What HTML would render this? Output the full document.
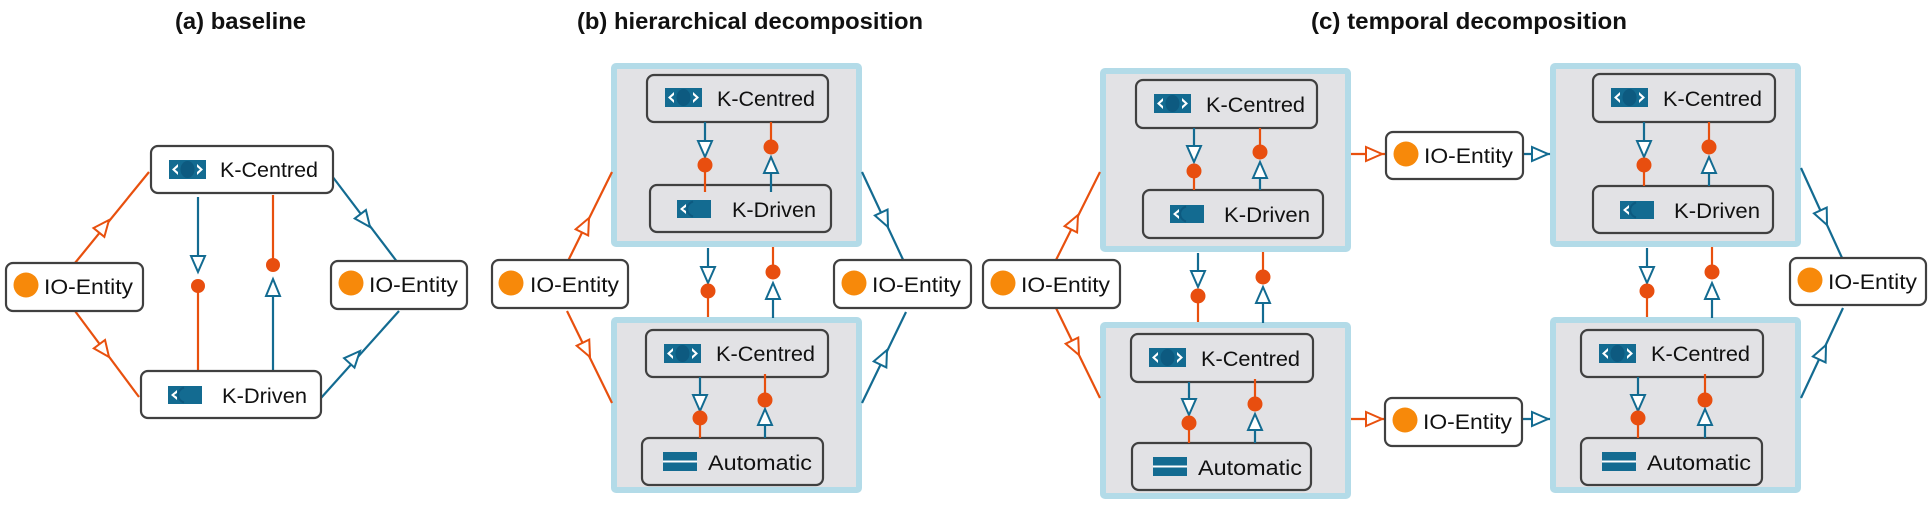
<!DOCTYPE html>
<html><head><meta charset="utf-8"><style>
html,body{margin:0;padding:0;background:#fff;}
svg{display:block}
text{font-family:"Liberation Sans",sans-serif;}
.t{font-weight:bold;font-size:23px;fill:#111}
.l{font-size:21px;fill:#111}
.n{stroke:#404040;stroke-width:2.2}
.c{fill:#e2e2e5;stroke:#b3dbe8;stroke-width:6}
.o{stroke:#e8500e;stroke-width:2.2;fill:none}
.b{stroke:#136b91;stroke-width:2.2;fill:none}
.ot{stroke:#e8500e;stroke-width:2;fill:#fff}
.bt{stroke:#136b91;stroke-width:2;fill:#fff}
.d{fill:#e84e0f}
.oc{fill:#f7890a}
</style></head><body>
<svg width="1928" height="505" viewBox="0 0 1928 505" xmlns="http://www.w3.org/2000/svg">
<defs>
<g id="ikc"><rect width="37" height="19" fill="#136b91"/><ellipse cx="18.5" cy="9.5" rx="7" ry="8.5" fill="#0d5a80"/><polygon points="9,4 3,9.5 9,15 9,12 6,9.5 9,7" fill="#fff"/><polygon points="28,4 34,9.5 28,15 28,12 31,9.5 28,7" fill="#fff"/></g>
<g id="ikd"><rect width="34" height="18" fill="#136b91"/><path d="M16,1.5 A9,8 0 0 0 16,16.5" fill="none" stroke="#0d5a80" stroke-width="2"/><polygon points="9,4 3,9 9,14 9,11 6,9 9,7" fill="#fff"/></g>
<g id="iau"><rect width="34" height="19" fill="#136b91"/><rect y="8.5" width="34" height="2" fill="#fff"/></g>
<polygon id="arr" points="0,0 -16,-7 -16,7"/>
</defs>

<!-- titles -->
<text class="t" x="175" y="29" textLength="131" lengthAdjust="spacingAndGlyphs">(a) baseline</text>
<text class="t" x="577" y="29" textLength="346" lengthAdjust="spacingAndGlyphs">(b) hierarchical decomposition</text>
<text class="t" x="1311" y="29" textLength="316" lengthAdjust="spacingAndGlyphs">(c) temporal decomposition</text>

<!-- ===== (a) ===== -->
<line class="o" x1="75" y1="263" x2="149" y2="172"/>
<line class="o" x1="75" y1="311" x2="139" y2="397"/>
<line class="b" x1="329" y1="172" x2="398" y2="263"/>
<line class="b" x1="321" y1="398" x2="399" y2="311"/>
<use href="#arr" class="ot" transform="translate(109,220) rotate(-50.9)"/>
<use href="#arr" class="ot" transform="translate(109,357) rotate(53.3)"/>
<use href="#arr" class="bt" transform="translate(370,227) rotate(52.8)"/>
<use href="#arr" class="bt" transform="translate(360,351) rotate(-48)"/>

<line class="b" x1="198" y1="197" x2="198" y2="256"/>
<polygon class="bt" points="191,256 205,256 198,272"/>
<line class="o" x1="198" y1="286" x2="198" y2="372"/>
<circle class="d" cx="198" cy="286" r="7"/>
<line class="o" x1="273" y1="195" x2="273" y2="265"/>
<circle class="d" cx="273" cy="265" r="7"/>
<line class="b" x1="273" y1="296" x2="273" y2="375"/>
<polygon class="bt" points="266,296 280,296 273,279"/>

<rect class="n" x="151" y="146" width="182" height="47" rx="7" fill="#fff"/>
<use href="#ikc" x="169" y="160"/>
<text class="l" x="220" y="177" textLength="98" lengthAdjust="spacingAndGlyphs">K-Centred</text>
<rect class="n" x="141" y="371" width="180" height="47" rx="7" fill="#fff"/>
<use href="#ikd" x="168" y="386"/>
<text class="l" x="222" y="403" textLength="85" lengthAdjust="spacingAndGlyphs">K-Driven</text>
<rect class="n" x="6" y="263" width="137" height="48" rx="7" fill="#fff"/>
<circle class="oc" cx="26" cy="285" r="12.5"/>
<text class="l" x="44" y="294" textLength="89" lengthAdjust="spacingAndGlyphs">IO-Entity</text>
<rect class="n" x="331" y="261" width="136" height="48" rx="7" fill="#fff"/>
<circle class="oc" cx="351" cy="283" r="12.5"/>
<text class="l" x="369" y="292" textLength="89" lengthAdjust="spacingAndGlyphs">IO-Entity</text>

<!-- ===== (b) ===== -->
<rect class="c" x="614" y="66" width="245" height="178" rx="2"/>
<rect class="c" x="614" y="320" width="245" height="170" rx="2"/>

<line class="o" x1="567" y1="263" x2="612" y2="172"/>
<line class="o" x1="567" y1="311" x2="612" y2="403"/>
<line class="b" x1="862" y1="172" x2="906" y2="266"/>
<line class="b" x1="862" y1="403" x2="906" y2="312"/>
<use href="#arr" class="ot" transform="translate(589,218) rotate(-63.7)"/>
<use href="#arr" class="ot" transform="translate(590,357) rotate(63.9)"/>
<use href="#arr" class="bt" transform="translate(888,227) rotate(64.9)"/>
<use href="#arr" class="bt" transform="translate(887,350) rotate(-64.2)"/>

<rect class="n" x="647" y="75" width="181" height="47" rx="7" fill="#e2e2e5"/>
<use href="#ikc" x="665" y="88"/>
<text class="l" x="717" y="106" textLength="98" lengthAdjust="spacingAndGlyphs">K-Centred</text>
<rect class="n" x="650" y="185" width="181" height="47" rx="7" fill="#e2e2e5"/>
<use href="#ikd" x="677" y="200"/>
<text class="l" x="732" y="217" textLength="84" lengthAdjust="spacingAndGlyphs">K-Driven</text>
<rect class="n" x="646" y="330" width="182" height="47" rx="7" fill="#e2e2e5"/>
<use href="#ikc" x="664" y="344"/>
<text class="l" x="716" y="361" textLength="99" lengthAdjust="spacingAndGlyphs">K-Centred</text>
<rect class="n" x="642" y="438" width="181" height="47" rx="7" fill="#e2e2e5"/>
<use href="#iau" x="663" y="452"/>
<text class="l" x="708" y="470" textLength="104" lengthAdjust="spacingAndGlyphs">Automatic</text>

<!-- b connectors -->
<g>
<line class="b" x1="705" y1="122" x2="705" y2="141"/><line class="o" x1="705" y1="165" x2="705" y2="192"/>
<polygon class="bt" points="698,141 712,141 705,157"/><circle class="d" cx="705" cy="165" r="7.5"/>
<line class="o" x1="771" y1="122" x2="771" y2="147"/><line class="b" x1="771" y1="173" x2="771" y2="192"/>
<circle class="d" cx="771" cy="147" r="7.5"/><polygon class="bt" points="764,173 778,173 771,157"/>

<line class="b" x1="708" y1="248" x2="708" y2="267"/><line class="o" x1="708" y1="291" x2="708" y2="317"/>
<polygon class="bt" points="701,267 715,267 708,283"/><circle class="d" cx="708" cy="291" r="7.5"/>
<line class="o" x1="773" y1="247" x2="773" y2="272"/><line class="b" x1="773" y1="299" x2="773" y2="318"/>
<circle class="d" cx="773" cy="272" r="7.5"/><polygon class="bt" points="766,299 780,299 773,283"/>

<line class="b" x1="700" y1="377" x2="700" y2="395"/><line class="o" x1="700" y1="418" x2="700" y2="438"/>
<polygon class="bt" points="693,395 707,395 700,411"/><circle class="d" cx="700" cy="418" r="7.5"/>
<line class="o" x1="765" y1="374" x2="765" y2="400"/><line class="b" x1="765" y1="425" x2="765" y2="438"/>
<circle class="d" cx="765" cy="400" r="7.5"/><polygon class="bt" points="758,425 772,425 765,409"/>
</g>

<rect class="n" x="492" y="260" width="136" height="48" rx="7" fill="#fff"/>
<circle class="oc" cx="511" cy="283" r="12.5"/>
<text class="l" x="530" y="292" textLength="89" lengthAdjust="spacingAndGlyphs">IO-Entity</text>
<rect class="n" x="834" y="260" width="137" height="48" rx="7" fill="#fff"/>
<circle class="oc" cx="854" cy="283" r="12.5"/>
<text class="l" x="872" y="292" textLength="89" lengthAdjust="spacingAndGlyphs">IO-Entity</text>

<!-- ===== (c) ===== -->
<rect class="c" x="1103" y="71" width="245" height="178" rx="2"/>
<rect class="c" x="1103" y="325" width="245" height="171" rx="2"/>
<rect class="c" x="1553" y="66" width="245" height="178" rx="2"/>
<rect class="c" x="1553" y="320" width="245" height="170" rx="2"/>

<line class="o" x1="1056" y1="260" x2="1100" y2="172"/>
<line class="o" x1="1056" y1="308" x2="1100" y2="398"/>
<line class="b" x1="1801" y1="168" x2="1843" y2="260"/>
<line class="b" x1="1801" y1="398" x2="1843" y2="308"/>
<use href="#arr" class="ot" transform="translate(1078,215) rotate(-63.4)"/>
<use href="#arr" class="ot" transform="translate(1079,355) rotate(63.9)"/>
<use href="#arr" class="bt" transform="translate(1827,225) rotate(65.5)"/>
<use href="#arr" class="bt" transform="translate(1826,345) rotate(-65)"/>

<!-- horizontal -->
<line class="o" x1="1351" y1="154" x2="1386" y2="154"/>
<polygon class="ot" points="1366,147 1366,161 1382,154"/>
<line class="b" x1="1523" y1="154" x2="1550" y2="154"/>
<polygon class="bt" points="1532,147 1532,161 1548,154"/>
<line class="o" x1="1351" y1="419" x2="1386" y2="419"/>
<polygon class="ot" points="1366,412 1366,426 1382,419"/>
<line class="b" x1="1522" y1="419" x2="1550" y2="419"/>
<polygon class="bt" points="1532,412 1532,426 1548,419"/>

<!-- TL nodes -->
<rect class="n" x="1136" y="80" width="181" height="48" rx="7" fill="#e2e2e5"/>
<use href="#ikc" x="1154" y="94"/>
<text class="l" x="1206" y="112" textLength="99" lengthAdjust="spacingAndGlyphs">K-Centred</text>
<rect class="n" x="1143" y="190" width="180" height="48" rx="7" fill="#e2e2e5"/>
<use href="#ikd" x="1170" y="205"/>
<text class="l" x="1224" y="222" textLength="86" lengthAdjust="spacingAndGlyphs">K-Driven</text>
<!-- BL nodes -->
<rect class="n" x="1131" y="334" width="182" height="48" rx="7" fill="#e2e2e5"/>
<use href="#ikc" x="1149" y="348"/>
<text class="l" x="1201" y="366" textLength="99" lengthAdjust="spacingAndGlyphs">K-Centred</text>
<rect class="n" x="1132" y="443" width="179" height="47" rx="7" fill="#e2e2e5"/>
<use href="#iau" x="1153" y="457"/>
<text class="l" x="1198" y="475" textLength="104" lengthAdjust="spacingAndGlyphs">Automatic</text>
<!-- TR nodes -->
<rect class="n" x="1593" y="74" width="182" height="48" rx="7" fill="#e2e2e5"/>
<use href="#ikc" x="1611" y="88"/>
<text class="l" x="1663" y="106" textLength="99" lengthAdjust="spacingAndGlyphs">K-Centred</text>
<rect class="n" x="1593" y="186" width="180" height="47" rx="7" fill="#e2e2e5"/>
<use href="#ikd" x="1620" y="201"/>
<text class="l" x="1674" y="218" textLength="86" lengthAdjust="spacingAndGlyphs">K-Driven</text>
<!-- BR nodes -->
<rect class="n" x="1581" y="330" width="182" height="47" rx="7" fill="#e2e2e5"/>
<use href="#ikc" x="1599" y="344"/>
<text class="l" x="1651" y="361" textLength="99" lengthAdjust="spacingAndGlyphs">K-Centred</text>
<rect class="n" x="1581" y="438" width="181" height="47" rx="7" fill="#e2e2e5"/>
<use href="#iau" x="1602" y="452"/>
<text class="l" x="1647" y="470" textLength="104" lengthAdjust="spacingAndGlyphs">Automatic</text>

<!-- c connectors -->
<g>
<line class="b" x1="1194" y1="128" x2="1194" y2="146"/><line class="o" x1="1194" y1="171" x2="1194" y2="190"/>
<polygon class="bt" points="1187,146 1201,146 1194,162"/><circle class="d" cx="1194" cy="171" r="7.5"/>
<line class="o" x1="1260" y1="128" x2="1260" y2="152"/><line class="b" x1="1260" y1="178" x2="1260" y2="190"/>
<circle class="d" cx="1260" cy="152" r="7.5"/><polygon class="bt" points="1253,178 1267,178 1260,162"/>

<line class="b" x1="1198" y1="253" x2="1198" y2="271"/><line class="o" x1="1198" y1="296" x2="1198" y2="322"/>
<polygon class="bt" points="1191,271 1205,271 1198,287"/><circle class="d" cx="1198" cy="296" r="7.5"/>
<line class="o" x1="1263" y1="252" x2="1263" y2="277"/><line class="b" x1="1263" y1="303" x2="1263" y2="323"/>
<circle class="d" cx="1263" cy="277" r="7.5"/><polygon class="bt" points="1256,303 1270,303 1263,287"/>

<line class="b" x1="1189" y1="382" x2="1189" y2="399"/><line class="o" x1="1189" y1="423" x2="1189" y2="443"/>
<polygon class="bt" points="1182,399 1196,399 1189,415"/><circle class="d" cx="1189" cy="423" r="7.5"/>
<line class="o" x1="1255" y1="379" x2="1255" y2="404"/><line class="b" x1="1255" y1="430" x2="1255" y2="443"/>
<circle class="d" cx="1255" cy="404" r="7.5"/><polygon class="bt" points="1248,430 1262,430 1255,414"/>

<line class="b" x1="1644" y1="122" x2="1644" y2="141"/><line class="o" x1="1644" y1="165" x2="1644" y2="186"/>
<polygon class="bt" points="1637,141 1651,141 1644,157"/><circle class="d" cx="1644" cy="165" r="7.5"/>
<line class="o" x1="1709" y1="122" x2="1709" y2="147"/><line class="b" x1="1709" y1="173" x2="1709" y2="186"/>
<circle class="d" cx="1709" cy="147" r="7.5"/><polygon class="bt" points="1702,173 1716,173 1709,157"/>

<line class="b" x1="1647" y1="248" x2="1647" y2="267"/><line class="o" x1="1647" y1="291" x2="1647" y2="317"/>
<polygon class="bt" points="1640,267 1654,267 1647,283"/><circle class="d" cx="1647" cy="291" r="7.5"/>
<line class="o" x1="1712" y1="247" x2="1712" y2="272"/><line class="b" x1="1712" y1="299" x2="1712" y2="318"/>
<circle class="d" cx="1712" cy="272" r="7.5"/><polygon class="bt" points="1705,299 1719,299 1712,283"/>

<line class="b" x1="1638" y1="377" x2="1638" y2="395"/><line class="o" x1="1638" y1="418" x2="1638" y2="438"/>
<polygon class="bt" points="1631,395 1645,395 1638,411"/><circle class="d" cx="1638" cy="418" r="7.5"/>
<line class="o" x1="1705" y1="374" x2="1705" y2="400"/><line class="b" x1="1705" y1="425" x2="1705" y2="438"/>
<circle class="d" cx="1705" cy="400" r="7.5"/><polygon class="bt" points="1698,425 1712,425 1705,409"/>
</g>

<!-- c IO entities -->
<rect class="n" x="983" y="260" width="137" height="48" rx="7" fill="#fff"/>
<circle class="oc" cx="1003" cy="283" r="12.5"/>
<text class="l" x="1021" y="292" textLength="89" lengthAdjust="spacingAndGlyphs">IO-Entity</text>
<rect class="n" x="1386" y="132" width="137" height="47" rx="7" fill="#fff"/>
<circle class="oc" cx="1406" cy="154" r="12.5"/>
<text class="l" x="1424" y="163" textLength="89" lengthAdjust="spacingAndGlyphs">IO-Entity</text>
<rect class="n" x="1385" y="398" width="137" height="48" rx="7" fill="#fff"/>
<circle class="oc" cx="1405" cy="420" r="12.5"/>
<text class="l" x="1423" y="429" textLength="89" lengthAdjust="spacingAndGlyphs">IO-Entity</text>
<rect class="n" x="1790" y="258" width="136" height="47" rx="7" fill="#fff"/>
<circle class="oc" cx="1810" cy="280" r="12.5"/>
<text class="l" x="1828" y="289" textLength="89" lengthAdjust="spacingAndGlyphs">IO-Entity</text>
</svg>
</body></html>
